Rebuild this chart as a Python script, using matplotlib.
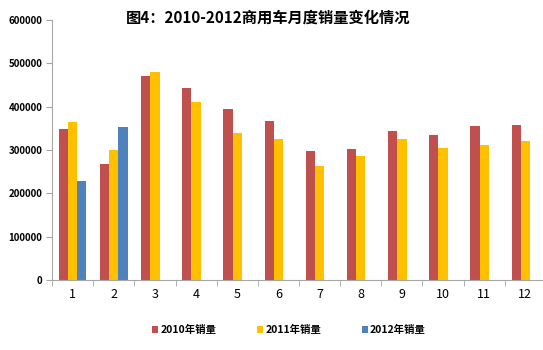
import matplotlib
matplotlib.use("Agg")
import matplotlib.pyplot as plt
import numpy as np

plt.rcParams["font.family"] = ["Noto Sans CJK SC", "DejaVu Sans"]

MONTHS = ["1", "2", "3", "4", "5", "6", "7", "8", "9", "10", "11", "12"]
SALES_2010 = [348000, 268000, 471000, 443000, 395000, 368000,
              297000, 302000, 344000, 335000, 356000, 357000]
SALES_2011 = [365000, 299000, 480000, 410000, 339000, 326000,
              263000, 286000, 326000, 305000, 311000, 321000]
SALES_2012 = [229000, 353000]

TITLE = "图4：2010-2012商用车月度销量变化情况"
LABELS = ["2010年销量", "2011年销量", "2012年销量"]

COLOR_2010 = "#C0504D"
COLOR_2011 = "#FFC000"
COLOR_2012 = "#4F81BD"
AXIS_GRAY = "#A6A6A6"


def main():
    fig = plt.figure(figsize=(5.43, 3.5), dpi=100)
    ax = fig.add_axes([52 / 543, 0.2, 494 / 543, 0.743])

    x = np.arange(len(MONTHS))
    w = 0.225
    y2012 = SALES_2012 + [np.nan] * (len(MONTHS) - len(SALES_2012))

    ax.bar(x - w, SALES_2010, width=w, color=COLOR_2010, label=LABELS[0])
    ax.bar(x, SALES_2011, width=w, color=COLOR_2011, label=LABELS[1])
    ax.bar(x + w, y2012, width=w, color=COLOR_2012, label=LABELS[2])

    ax.set_xlim(-0.5, len(MONTHS) - 0.5)
    ax.set_ylim(0, 600000)
    ax.set_yticks(np.arange(0, 600001, 100000))
    ax.set_yticklabels([str(v) for v in range(0, 600001, 100000)],
                       fontsize=7, fontweight="bold")
    ax.set_xticks(x)
    ax.set_xticklabels(MONTHS, fontsize=9)
    ax.set_xticks(np.arange(-0.5, len(MONTHS), 1), minor=True)
    ax.tick_params(axis="x", which="major", length=0, pad=6)
    ax.tick_params(axis="x", which="minor", length=4, color=AXIS_GRAY)
    ax.tick_params(axis="y", length=4, color=AXIS_GRAY, pad=3)

    for side in ("top", "right"):
        ax.spines[side].set_visible(False)
    for side in ("left", "bottom"):
        ax.spines[side].set_color(AXIS_GRAY)

    fig.text(268 / 543, 1 - 18 / 350, TITLE, ha="center", va="center",
             fontsize=11, fontweight="bold")

    fig.legend(loc="center", bbox_to_anchor=(289 / 543, 1 - 330 / 350),
               ncol=3, frameon=False, prop={"size": 7.5, "weight": "bold"},
               handlelength=0.6, handleheight=0.6, handletextpad=0.2,
               columnspacing=3.9)

    fig.savefig("out.png", dpi=100)
    plt.close(fig)


if __name__ == "__main__":
    main()
